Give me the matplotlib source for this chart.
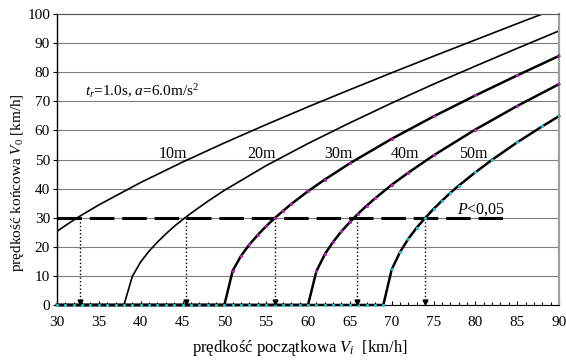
import matplotlib.pyplot as plt

plt.rcParams.update({
    "font.family": "Liberation Serif",
    "font.size": 11,
    "mathtext.fontset": "custom",
    "mathtext.rm": "Liberation Serif",
    "mathtext.it": "Liberation Serif:italic",
})

# initial speed Vi [km/h] and final speed V0 [km/h]
vi_10 = [30, 31, 32, 33, 35, 40, 45, 50, 55, 60, 65, 70, 75, 80, 85, 88, 90]
v0_10 = [25.3, 27.3, 29.2, 31.0, 34.4, 42.1, 49.1, 55.7, 62.0, 68.1, 74.0, 79.8, 85.5, 91.1, 96.7, 100.0, 102.1]

vi_20 = [30, 38, 39, 40, 41, 42, 43, 44, 45, 46, 48, 50, 55, 60, 65, 70, 75, 80, 85, 90]
v0_20 = [0, 0, 9.8, 14.8, 18.5, 21.6, 24.4, 27.0, 29.3, 31.5, 35.6, 39.4, 47.9, 55.5, 62.6, 69.4, 75.9, 82.1, 88.2, 94.2]

vi_30 = [30, 50, 51, 52, 53, 54, 55, 56, 57, 58, 60, 62, 65, 70, 75, 80, 85, 90]
v0_30 = [0, 0, 11.8, 16.9, 20.8, 24.1, 27.1, 29.8, 32.3, 34.7, 39.1, 43.1, 48.7, 57.1, 64.8, 72.0, 78.9, 85.6]

vi_40 = [30, 60, 61, 62, 63, 64, 65, 66, 67, 68, 70, 72, 75, 80, 85, 90]
v0_40 = [0, 0, 11.6, 17.4, 21.7, 25.3, 28.5, 31.4, 34.1, 36.6, 41.3, 45.5, 51.4, 60.3, 68.4, 75.9]

vi_50 = [30, 69, 70, 71, 72, 73, 74, 75, 76, 77, 78, 80, 82, 85, 88, 90]
v0_50 = [0, 0, 12.2, 18.2, 22.8, 26.6, 29.9, 33.0, 35.8, 38.5, 41.0, 45.6, 49.9, 55.9, 61.4, 64.9]

curve_labels = ["10m", "20m", "30m", "40m", "50m"]
label_x = [43.8, 54.4, 63.6, 71.6, 79.7]
label_y = 50.5

# Vi where each curve crosses the P<0,05 level (V0 = 30 km/h)
threshold = 30
cross_x = [32.8, 45.4, 56.1, 65.8, 74.0]

fig = plt.figure(figsize=(5.66, 3.63), dpi=100)
ax = fig.add_axes([0.1007, 0.1598, 0.887, 0.8016])

ax.set_xlim(30, 90)
ax.set_ylim(0, 100)
ax.set_xticks(range(30, 91, 5))
ax.set_xticks(range(30, 91, 1), minor=True)
ax.set_yticks(range(0, 101, 10))
ax.tick_params(axis="x", which="both", direction="in", length=3, width=0.8, pad=8)
ax.tick_params(axis="x", which="minor", length=2)
ax.tick_params(axis="y", direction="out", length=3, width=0.8, pad=2)
ax.yaxis.grid(True, color="#7f7f7f", linewidth=0.8)
ax.set_axisbelow(True)
ax.spines["right"].set_color("#a0a0a0")
ax.spines["right"].set_linewidth(1.6)
ax.spines["top"].set_color("#555555")
ax.spines["left"].set_linewidth(1.0)

ax.plot(vi_10, v0_10, color="black", linewidth=1.2)
ax.plot(vi_20, v0_20, color="black", linewidth=1.2)
for xs, ys, dot in [(vi_30, v0_30, "#c020c0"), (vi_40, v0_40, "#c020c0"), (vi_50, v0_50, "#20c8d8")]:
    ax.plot(xs, ys, color="black", linewidth=1.8, clip_on=False, zorder=3)
    ax.plot(xs[2:], ys[2:], linestyle="none", marker="o", markersize=1.3,
            color=dot, zorder=4)
ax.plot(range(30, 70), [0] * 40, linestyle="none", marker="o", markersize=1.3,
        color="#20c8d8", zorder=4, clip_on=False)

for text, x in zip(curve_labels, label_x):
    ax.text(x, label_y, text, ha="center", va="baseline", fontsize=11.5)

ax.plot([30, 84], [threshold, threshold], color="black", linewidth=2.2,
        dashes=(8, 2.6), zorder=2)
ax.text(80.7, threshold + 1.5, r"$\mathit{P}$<0,05", ha="center", va="baseline", fontsize=11.5)

for x in cross_x:
    ax.plot([x, x], [threshold, 1.5], color="black", linestyle=":", linewidth=1.0, zorder=2)
    ax.plot(x, 1.2, marker="v", markersize=3.5, color="black", zorder=5)

ax.text(33.3, 73.5, r"$t_r$=1.0s, $a$=6.0m/s$^2$", fontsize=11, va="center")

ax.set_xlabel(r"prędkość początkowa $V_i$  [km/h]", fontsize=12)
ax.xaxis.set_label_coords(0.484, -0.115)
ax.set_ylabel(r"prędkość końcowa $V_\mathit{0}$ [km/h]", fontsize=11)
ax.yaxis.set_label_coords(-0.062, 0.42)

fig.savefig("out.png", dpi=100, facecolor="white")
